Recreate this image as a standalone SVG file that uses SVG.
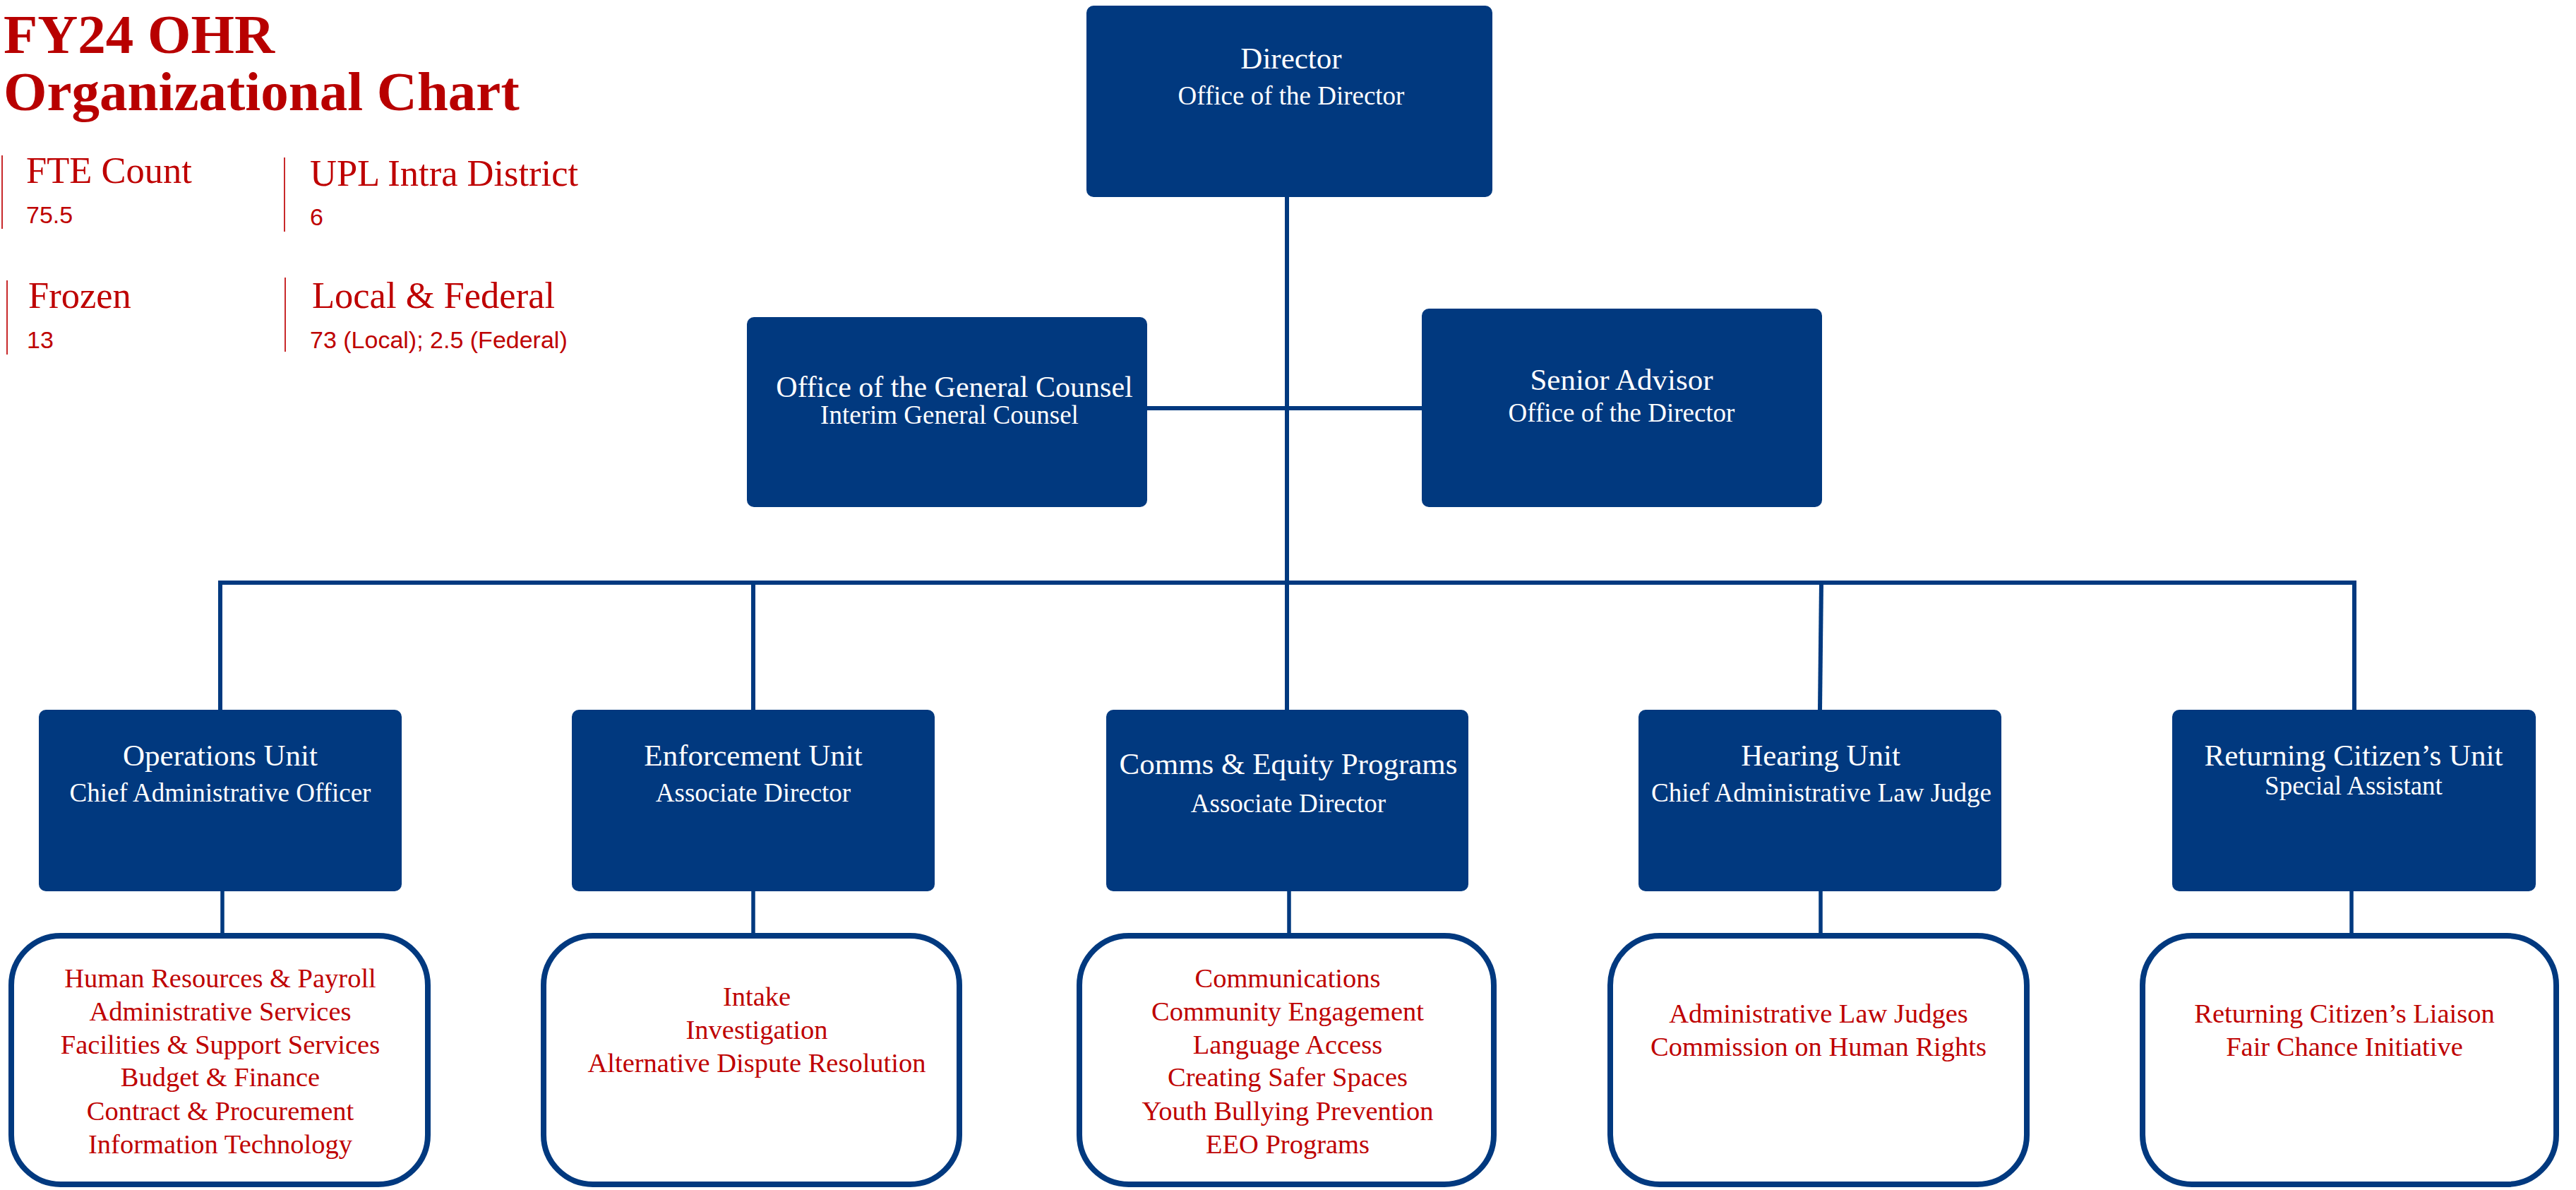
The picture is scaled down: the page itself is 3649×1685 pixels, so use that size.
<svg xmlns="http://www.w3.org/2000/svg" width="3649" height="1685" viewBox="0 0 3649 1685">
<style>
.box{fill:#01397F}
.list{fill:#fff;stroke:#01397F;stroke-width:8}
.ln{stroke:#01397F;stroke-width:6;fill:none}
.ln2{stroke:#01397F;stroke-width:5.5;fill:none}
.t{font-family:"Liberation Serif",serif;fill:#fff;text-anchor:middle}
.h{font-size:43px}
.s{font-size:37px}
.r{font-family:"Liberation Serif",serif;fill:#BE0000;font-size:38.5px;text-anchor:middle}
.title{font-family:"Liberation Serif",serif;font-weight:bold;fill:#B80000;font-size:79px}
.sh{font-family:"Liberation Serif",serif;fill:#BE0000;font-size:52.5px}
.sv{font-family:"Liberation Sans",sans-serif;fill:#BE0000;font-size:34px}
.bar{stroke:#C8292B;stroke-width:2}
</style>
<g id="header">
<text class="title" x="5" y="75">FY24 OHR</text>
<text class="title" x="5" y="156">Organizational Chart</text>
<line class="bar" x1="3" y1="220" x2="3" y2="324"/>
<text class="sh" x="37" y="259">FTE Count</text>
<text class="sv" x="37" y="316">75.5</text>
<line class="bar" x1="403" y1="223" x2="403" y2="328"/>
<text class="sh" x="439" y="263">UPL Intra District</text>
<text class="sv" x="439" y="319">6</text>
<line class="bar" x1="10" y1="397" x2="10" y2="502"/>
<text class="sh" x="40" y="436">Frozen</text>
<text class="sv" x="38" y="493">13</text>
<line class="bar" x1="404" y1="393" x2="404" y2="498"/>
<text class="sh" x="442" y="436">Local &amp; Federal</text>
<text class="sv" x="439" y="493">73 (Local); 2.5 (Federal)</text>
</g>
<g id="connectors">
<line class="ln" x1="1823" y1="279" x2="1823" y2="1005"/>
<line class="ln" x1="1625" y1="578" x2="2014" y2="578"/>
<path class="ln" d="M312 1005 V825 H3335 V1005"/>
<line class="ln" x1="1067" y1="825" x2="1067" y2="1005"/>
<line class="ln" x1="2580" y1="825" x2="2578" y2="1005"/>
<line class="ln2" x1="315" y1="1262" x2="315" y2="1321"/>
<line class="ln2" x1="1067" y1="1262" x2="1067" y2="1321"/>
<line class="ln2" x1="1826" y1="1262" x2="1826" y2="1321"/>
<line class="ln2" x1="2579" y1="1262" x2="2579" y2="1321"/>
<line class="ln2" x1="3331" y1="1262" x2="3331" y2="1321"/>
</g>
<g id="director">
<rect class="box" x="1539" y="8" width="575" height="271" rx="10"/>
<text class="t h" x="1829" y="97">Director</text>
<text class="t s" x="1829" y="148">Office of the Director</text>
</g>
<g id="general-counsel">
<rect class="box" x="1058" y="449" width="567" height="269" rx="10"/>
<text class="t" x="1352" y="562" font-size="42">Office of the General Counsel</text>
<text class="t s" x="1345" y="600">Interim General Counsel</text>
</g>
<g id="senior-advisor">
<rect class="box" x="2014" y="437" width="567" height="281" rx="10"/>
<text class="t h" x="2297" y="552">Senior Advisor</text>
<text class="t s" x="2297" y="597">Office of the Director</text>
</g>
<g id="operations">
<rect class="box" x="55" y="1005" width="514" height="257" rx="10"/>
<text class="t h" x="312" y="1084">Operations Unit</text>
<text class="t s" x="312" y="1135">Chief Administrative Officer</text>
</g>
<g id="operations-list">
<rect class="list" x="16" y="1325" width="590" height="352" rx="70"/>
<text class="r" x="312" y="1398">Human Resources &amp; Payroll</text>
<text class="r" x="312" y="1445">Administrative Services</text>
<text class="r" x="312" y="1492">Facilities &amp; Support Services</text>
<text class="r" x="312" y="1538">Budget &amp; Finance</text>
<text class="r" x="312" y="1586">Contract &amp; Procurement</text>
<text class="r" x="312" y="1633">Information Technology</text>
</g>
<g id="enforcement">
<rect class="box" x="810" y="1005" width="514" height="257" rx="10"/>
<text class="t h" x="1067" y="1084">Enforcement Unit</text>
<text class="t s" x="1067" y="1135">Associate Director</text>
</g>
<g id="enforcement-list">
<rect class="list" x="770" y="1325" width="589" height="352" rx="70"/>
<text class="r" x="1072" y="1424">Intake</text>
<text class="r" x="1072" y="1471">Investigation</text>
<text class="r" x="1072" y="1518">Alternative Dispute Resolution</text>
</g>
<g id="comms">
<rect class="box" x="1567" y="1005" width="513" height="257" rx="10"/>
<text class="t h" x="1825" y="1096">Comms &amp; Equity Programs</text>
<text class="t s" x="1825" y="1150">Associate Director</text>
</g>
<g id="comms-list">
<rect class="list" x="1529" y="1325" width="587" height="352" rx="70"/>
<text class="r" x="1824" y="1398">Communications</text>
<text class="r" x="1824" y="1445">Community Engagement</text>
<text class="r" x="1824" y="1492">Language Access</text>
<text class="r" x="1824" y="1538">Creating Safer Spaces</text>
<text class="r" x="1824" y="1586">Youth Bullying Prevention</text>
<text class="r" x="1824" y="1633">EEO Programs</text>
</g>
<g id="hearing">
<rect class="box" x="2321" y="1005" width="514" height="257" rx="10"/>
<text class="t h" x="2579" y="1084">Hearing Unit</text>
<text class="t s" x="2580" y="1135">Chief Administrative Law Judge</text>
</g>
<g id="hearing-list">
<rect class="list" x="2281" y="1325" width="590" height="352" rx="70"/>
<text class="r" x="2576" y="1448">Administrative Law Judges</text>
<text class="r" x="2576" y="1495">Commission on Human Rights</text>
</g>
<g id="returning-citizens">
<rect class="box" x="3077" y="1005" width="515" height="257" rx="10"/>
<text class="t h" x="3334" y="1084">Returning Citizen’s Unit</text>
<text class="t s" x="3334" y="1125">Special Assistant</text>
</g>
<g id="returning-citizens-list">
<rect class="list" x="3035" y="1325" width="586" height="352" rx="70"/>
<text class="r" x="3321" y="1448">Returning Citizen’s Liaison</text>
<text class="r" x="3321" y="1495">Fair Chance Initiative</text>
</g>
</svg>
